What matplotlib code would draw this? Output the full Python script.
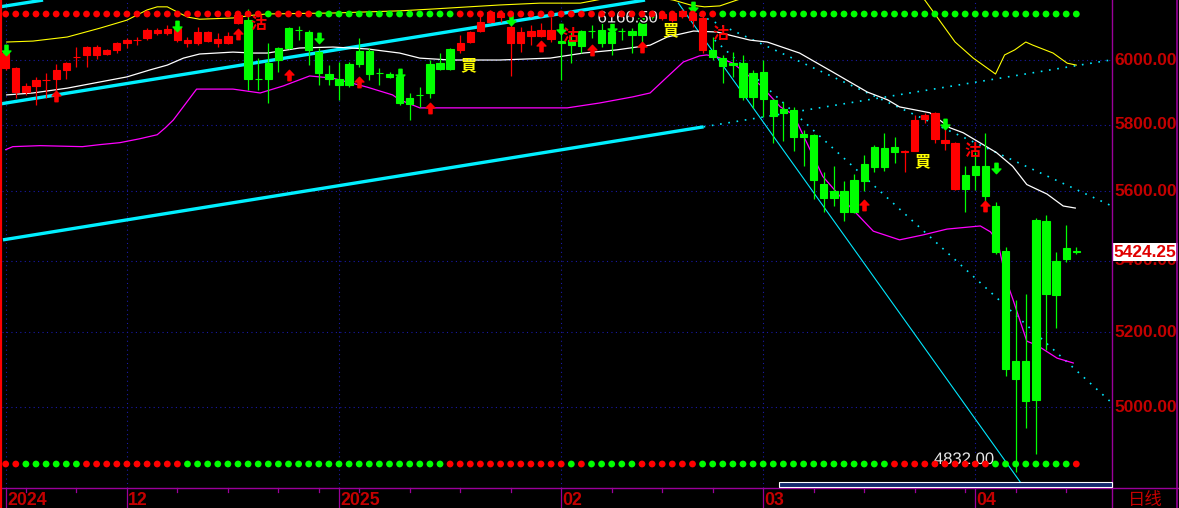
import matplotlib
matplotlib.use("Agg")
import matplotlib.pyplot as plt
import numpy as np
from matplotlib import transforms
from matplotlib.path import Path
from matplotlib.lines import Line2D
from matplotlib.patches import Rectangle
from matplotlib.ticker import NullLocator
import matplotlib.patheffects as pe

# ---------------- data ----------------
opens = [5975, 5900, 5900, 5919, 5936, 5940, 5969, 6008, 6016, 6016,
         6019, 6032, 6053, 6062, 6069, 6085, 6085, 6063, 6053, 6053,
         6060, 6053, 6053, 6117, 6127, 5941, 5990, 6038, 6101, 6096,
         6089, 6025, 5956, 5940, 5987, 6029, 6029, 5960, 5956, 5947,
         5882, 5892, 5987, 5990, 6035, 6032, 6057, 6092, 6121, 6137,
         6053, 6053, 6076, 6076, 6066, 6060, 6063, 6092, 6093, 6095,
         6089, 6093, 6092, 6134, 6147, 6134, 6127, 6140, 6127, 6032,
         6032, 6006, 5990, 5990, 5959, 5962, 5876, 5848, 5845, 5772,
         5769, 5623, 5600, 5600, 5632, 5682, 5733, 5730, 5733, 5716,
         5721, 5817, 5757, 5745, 5606, 5647, 5674, 5674, 5557, 5427,
         5122, 5122, 5516, 5513, 5399, 5436, 5426]
highs = [6041, 5978, 5928, 5947, 5959, 5987, 5994, 6041, 6044, 6047,
         6035, 6057, 6069, 6073, 6101, 6101, 6111, 6117, 6073, 6105,
         6092, 6085, 6089, 6153, 6163, 6006, 6053, 6041, 6104, 6108,
         6095, 6038, 5984, 5994, 5994, 6069, 6038, 5975, 5962, 5969,
         5897, 5915, 6000, 6022, 6038, 6079, 6092, 6150, 6160, 6160,
         6111, 6105, 6111, 6117, 6137, 6111, 6089, 6095, 6111, 6121,
         6121, 6101, 6101, 6147, 6153, 6153, 6153, 6163, 6166.5, 6150,
         6073, 6016, 6025, 6016, 5969, 6000, 5878, 5869, 5854, 5784,
         5772, 5656, 5674, 5629, 5650, 5709, 5739, 5775, 5763, 5724,
         5830, 5836, 5839, 5799, 5747, 5674, 5718, 5775, 5568, 5439,
         5290, 5307, 5522, 5531, 5425, 5502, 5439]
lows = [5969, 5882, 5891, 5860, 5882, 5906, 5940, 5978, 5978, 6003,
        6016, 6022, 6038, 6047, 6063, 6079, 6079, 6057, 6041, 6047,
        6057, 6041, 6050, 6114, 5906, 5906, 5866, 5962, 6035, 6063,
        5984, 5922, 5922, 5876, 5915, 5978, 5937, 5922, 5943, 5860,
        5814, 5854, 5882, 5969, 5969, 6022, 6053, 6089, 6118, 6121,
        5950, 6025, 6047, 6073, 6057, 5937, 5990, 6022, 6069, 6041,
        6016, 6063, 6022, 6053, 6127, 6127, 6121, 6134, 6105, 6022,
        6000, 5928, 5947, 5876, 5851, 5823, 5745, 5751, 5721, 5674,
        5577, 5539, 5557, 5513, 5536, 5600, 5656, 5659, 5685, 5656,
        5719, 5805, 5745, 5724, 5604, 5539, 5603, 5568, 5419, 5082,
        4832, 4946, 4877, 5152, 5211, 5397, 5419]
closes = [6022, 5975, 5919, 5937, 5938, 5969, 5990, 6011, 6041, 6041,
          6032, 6053, 6063, 6064, 6095, 6095, 6098, 6101, 6063, 6089,
          6089, 6066, 6076, 6143, 5940, 5939, 5940, 6000, 6038, 6094,
          6032, 5959, 5940, 5922, 5922, 5987, 5956, 5958, 5947, 5866,
          5863, 5890, 5897, 5972, 5972, 6053, 6089, 6121, 6153, 6150,
          6105, 6089, 6092, 6095, 6095, 6054, 6047, 6044, 6091, 6053,
          6053, 6091, 6079, 6079, 6137, 6147, 6150, 6157, 6150, 6134,
          6010, 5981, 5984, 5885, 5885, 5879, 5827, 5836, 5763, 5763,
          5632, 5580, 5580, 5539, 5539, 5629, 5671, 5671, 5718, 5719,
          5814, 5830, 5836, 5754, 5745, 5606, 5647, 5586, 5425, 5101,
          5074, 5016, 5019, 5307, 5304, 5405, 5424.25]
candle_colors = "R" * 24 + "G" * 21 + "R" * 10 + "G" * 10 + "R" * 5 + "G" * 19 + "R" * 6 + "G" * 12
top_dots = "R" * 26 + "G" + "R" * 4 + "G" * 14 + "R" * 26 + "G" * 36
bottom_dots = ("R" * 2 + "G" * 6 + "R" * 10 + "G" * 26 + "R" * 12 + "G" + "R" + "G" * 5
               + "R" * 6 + "G" * 19 + "R" * 10 + "G" * 8 + "R")

month_ticks = [0, 12, 33, 55, 75, 96]
month_labels = ["2024", "12", "2025", "02", "03", "04"]
week_ticks = [2, 7, 17, 22, 27, 31, 35, 40, 45, 50, 60, 65, 70, 80, 85, 90, 95, 100, 105]
price_ticks = [5000, 5200, 5400, 5600, 5800, 6000]

# Bollinger style lines (vertex index, value)
mid_idx = [0.1, 2.7, 6.1, 9.3, 12.0, 14.3, 16.0, 17.6, 19.2, 22.5, 24.5, 25.9, 29.1, 32.4,
           35.8, 39.0, 41.0, 44.0, 48.9, 53.9, 57.2, 60.5, 63.8, 65.5, 68.1, 70.4, 73.7,
           75.4, 78.6, 81.9, 85.3, 87.3, 88.5, 91.5, 93.5, 94.8, 98.1, 99.7, 101.1, 103.1,
           104.7, 105.9]
mid_val = [5891, 5897, 5912, 5931, 5947, 5969, 5984, 6006, 6019, 6025, 6022, 6022, 6038, 6041,
           6035, 6022, 6006, 6000, 6000, 6006, 6022, 6032, 6047, 6073, 6092, 6089, 6063,
           6057, 6022, 5962, 5900, 5876, 5854, 5836, 5790, 5775, 5715, 5674, 5620, 5592,
           5557, 5551]
upper_idx = [0.1, 2.7, 6.1, 9.3, 12.0, 14.0, 15.0, 16.0, 17.0, 18.0, 19.2, 22.5, 24.5, 25.9,
             32.4, 39.0, 42.3, 48.9, 52.9, 56.9, 59.8, 63.8, 66.1, 67.8, 69.2, 70.7, 72.4,
             76.7, 82.0, 86.0, 88.5, 91.0, 94.0, 95.8, 98.0, 98.9, 99.9, 101.0, 101.7, 103.7,
             105.1, 106.0]
upper_val = [6057, 6060, 6073, 6101, 6127, 6160, 6170, 6170, 6153, 6137, 6130, 6134, 6143, 6147,
             6150, 6157, 6163, 6176, 6182, 6182, 6200, 6205, 6192, 6176, 6170, 6173, 6192,
             6236, 6334, 6298, 6252, 6192, 6057, 6006, 5956, 6016, 6032, 6057, 6047, 6022,
             5990, 5984]
lower_idx = [0.0, 0.7, 3.4, 7.6, 9.3, 11.3, 13.3, 15.0, 15.8, 16.6, 18.9, 22.5, 25.2, 27.5,
             30.1, 32.4, 35.8, 38.3, 39.0, 41.0, 44.0, 48.9, 55.6, 58.8, 62.1, 63.8, 65.5,
             67.1, 68.7, 69.4, 70.4, 72.0, 74.7, 76.7, 78.0, 80.9, 82.6, 85.9, 88.5, 90.8,
             93.2, 96.5, 97.5, 98.2, 99.1, 99.7, 101.1, 102.1, 104.1, 105.7]
lower_val = [5724, 5733, 5736, 5733, 5739, 5745, 5757, 5769, 5790, 5814, 5909, 5909, 5897, 5919,
             5950, 5943, 5915, 5891, 5876, 5851, 5851, 5851, 5851, 5866, 5885, 5897, 5947,
             5994, 6013, 6016, 6010, 5990, 5922, 5854, 5830, 5644, 5586, 5484, 5459, 5473,
             5490, 5499, 5482, 5456, 5341, 5293, 5176, 5165, 5130, 5117]

# trend lines: (start idx, start value, end idx, end value)
thick_lines = [(-0.56, 6170, 3.7, 6192), (-0.56, 5863, 63.3, 6192), (-0.27, 5459, 69.1, 5793)]
thin_lines = [(66.6, 6182, 100.5, 4805)]
dotted_lines = [(69.1, 5793, 109.4, 6000), (68.7, 6143, 109.3, 5560), (70.2, 6063, 109.3, 5016)]

# signal marks
sig_idx = [25.0, 45.8, 55.9, 65.8, 70.8, 90.8, 95.7]
sig_val = [6114, 5984, 6076, 6095, 6082, 5688, 5721]
sig_text = ["沽", "買", "沽", "買", "沽", "買", "沽"]
up_idx = [5, 23, 28, 35, 42, 53, 58, 63, 85, 97]
up_val = [5888, 6082, 5953, 5931, 5851, 6044, 6032, 6041, 5560, 5557]
down_idx = [0, 17, 31, 39, 50, 55, 60, 68, 93, 98]
down_val = [6032, 6108, 6069, 5956, 6127, 6098, 6101, 6170, 5802, 5668]

hi_label_pos = (58.6, 6134)
lo_label_pos = (91.9, 4864)

# ---------------- figure ----------------
W, H = 1179, 508
RED = "#ff0000"
GRN = "#00ff00"
AXRED = "#c40000"
PURPLE = "#9a009a"

fig = plt.figure(figsize=(W / 100, H / 100), dpi=100, facecolor="black")
AX_L, AX_R, AX_B = 2, 1112, 488
ax = fig.add_axes([AX_L / W, 1 - AX_B / H, (AX_R - AX_L) / W, AX_B / H])
ax.set_facecolor("black")
ax.set_yscale("log")
x0 = -3.7 / 10.1
ax.set_xlim(x0, x0 + (AX_R - AX_L) / 10.1)
YMIN, YMAX = 4791.7, 6192.2
ax.set_ylim(YMIN, YMAX)
for s in ax.spines.values():
    s.set_visible(False)
ax.xaxis.set_major_locator(NullLocator())
ax.xaxis.set_minor_locator(NullLocator())
ax.yaxis.set_major_locator(NullLocator())
ax.yaxis.set_minor_locator(NullLocator())

tb = transforms.blended_transform_factory(ax.transData, ax.transAxes)
ty = transforms.blended_transform_factory(ax.transAxes, ax.transData)

# grid
ax.hlines(price_ticks, ax.get_xlim()[0], ax.get_xlim()[1], colors="#1a1aa8",
          linestyles=(0, (1, 3)), lw=0.8, zorder=1)
ax.vlines(month_ticks, YMIN, YMAX, colors="#1a1aa8", linestyles=(0, (1, 3)), lw=0.8, zorder=1)

# trend lines
for a, b, c, d in thick_lines:
    ax.plot([a, c], [b, d], color="#00f0ff", lw=2.4, zorder=2, solid_capstyle="butt")
for a, b, c, d in thin_lines:
    ax.plot([a, c], [b, d], color="#00e8ff", lw=0.8, zorder=2)
for a, b, c, d in dotted_lines:
    ax.plot([a, c], [b, d], color="#00e8ff", lw=1.2, ls=(0, (1, 4)), zorder=2)

# band lines
ax.plot(upper_idx, upper_val, color="#ffff00", lw=0.8, zorder=3)
ax.plot(mid_idx, mid_val, color="#ffffff", lw=0.9, zorder=3)
ax.plot(lower_idx, lower_val, color="#ff00ff", lw=0.9, zorder=3)

# candles
n = len(opens)
xs = np.arange(n)
o = np.array(opens, float)
c = np.array(closes, float)
cols = [RED if k == "R" else GRN for k in candle_colors]
ax.vlines(xs, lows, highs, colors=cols, lw=0.9, zorder=4)
lo_b = np.minimum(o, c)
hi_b = np.maximum(o, c)
ax.bar(xs, hi_b - lo_b, bottom=lo_b, width=0.72, color=cols, edgecolor=cols,
       linewidth=0.8, zorder=5)

# arrows
up_arrow = Path([(0, 1), (-0.85, 0.1), (-0.3, 0.1), (-0.3, -1), (0.3, -1), (0.3, 0.1),
                 (0.85, 0.1), (0, 1)],
                [Path.MOVETO] + [Path.LINETO] * 6 + [Path.CLOSEPOLY])
down_arrow = Path([(px, -py) for px, py in up_arrow.vertices], up_arrow.codes)
ax.plot(up_idx, up_val, ls="none", marker=up_arrow, ms=7.5, color=RED, mec=RED, zorder=6)
ax.plot(down_idx, down_val, ls="none", marker=down_arrow, ms=7.5, color=GRN, mec=GRN, zorder=6)

# high / low labels
hl_fx = [pe.withStroke(linewidth=2, foreground="black")]
ax.text(hi_label_pos[0], hi_label_pos[1], f"{max(highs):.2f}", color="#e6e6e6",
        fontsize=12, family="Liberation Sans", va="center", ha="left", zorder=6,
        path_effects=hl_fx)
ax.text(lo_label_pos[0], lo_label_pos[1], f"{min(lows):.2f}", color="#e6e6e6",
        fontsize=12, family="Liberation Sans", va="center", ha="left", zorder=6,
        path_effects=hl_fx)

# indicator dot rows
ax.scatter(xs, np.full(n, 1 - 14 / AX_B), c=[RED if k == "R" else GRN for k in top_dots],
           s=24, linewidths=0, transform=tb, zorder=7, clip_on=False)
ax.scatter(xs, np.full(n, (AX_B - 464) / AX_B), c=[RED if k == "R" else GRN for k in bottom_dots],
           s=24, linewidths=0, transform=tb, zorder=7, clip_on=False)

# signals
for xi, yi, t in zip(sig_idx, sig_val, sig_text):
    ax.text(xi, yi, t, color=("#ffff00" if t == "買" else RED), fontsize=11.5,
            family=["Noto Sans CJK TC", "DejaVu Sans"], fontweight="bold",
            ha="center", va="center", zorder=8)

# right price labels
for p in price_ticks:
    ax.text((1114 - AX_L) / (AX_R - AX_L), p, f"{p:.2f}", transform=ty, color=AXRED,
            fontsize=12.4, fontweight="bold", family="Liberation Sans",
            va="center", ha="left", clip_on=False, zorder=9)
ax.text((1113.5 - AX_L) / (AX_R - AX_L), closes[-1], f"{closes[-1]:.2f}", transform=ty,
        color="#e00000", fontsize=12.4, fontweight="bold", family="Liberation Sans",
        va="center", ha="left", clip_on=False, zorder=10,
        bbox=dict(boxstyle="square,pad=0.08", fc="white", ec="none"))

# bottom labels and ticks
for t, lab in zip(month_ticks, month_labels):
    ax.text(t + 0.12, -12.5 / AX_B, lab, transform=tb, color=AXRED, fontsize=12.8,
            fontweight="bold", family="Liberation Sans", va="center", ha="left",
            clip_on=False)
    ax.plot([t, t], [0, -20 / AX_B], transform=tb, color=PURPLE, lw=0.9, clip_on=False)
for t in week_ticks:
    ax.plot([t, t], [0, -4 / AX_B], transform=tb, color=PURPLE, lw=0.9, clip_on=False)


def fline(xa, ya, xb, yb, color, lw):
    fig.add_artist(Line2D([xa / W, xb / W], [1 - ya / H, 1 - yb / H], color=color, lw=lw,
                          transform=fig.transFigure, zorder=20))


fline(0, 488, W, 488, PURPLE, 1.0)
fline(1112, 0, 1112, H, PURPLE, 1.0)
fline(1177, 0, 1177, H, PURPLE, 1.2)
fline(1, 0, 1, H, RED, 1.6)

# scroll bar
fig.add_artist(Rectangle((779 / W, 1 - 487 / H), (1112 - 779) / W, 5 / H, fc="#142a6e",
                         ec="white", lw=0.8, transform=fig.transFigure, zorder=21))

fig.text(1128 / W, 1 - 500 / H, "日线", color=AXRED, fontsize=12.5,
         family=["Noto Sans CJK SC", "DejaVu Sans"], va="center", ha="left")

fig.savefig("out.png", dpi=100, facecolor="black")
